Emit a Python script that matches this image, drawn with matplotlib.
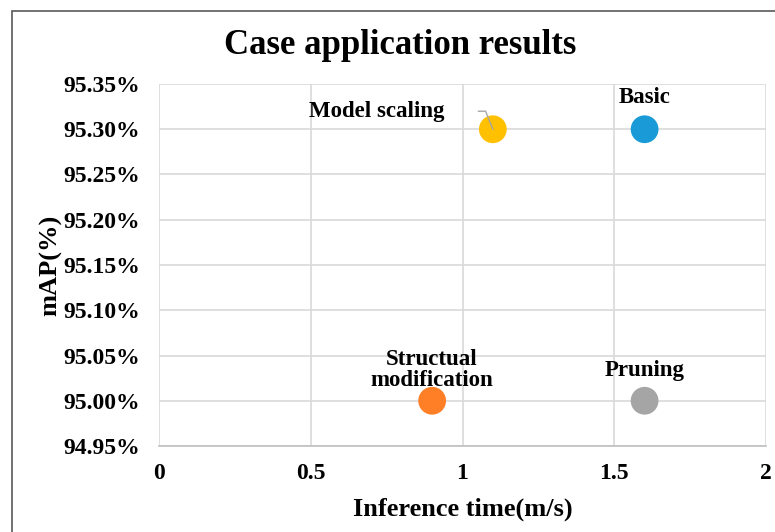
import numpy as np
import matplotlib.pyplot as plt
from matplotlib.patches import Rectangle
from matplotlib.ticker import FuncFormatter

plt.rc('font', family='Liberation Serif', weight='bold')

# data
kNames = ['Basic', 'Model scaling', 'Structual\nmodification', 'Pruning']
kTime = [1.6, 1.1, 0.9, 1.6]
kMap = [95.30, 95.30, 95.00, 95.00]
kColors = ['#1A9BD7', '#FFC000', '#FF7F27', '#A5A5A5']

kXTicks = [0, 0.5, 1, 1.5, 2]
kYTicks = [94.95, 95.00, 95.05, 95.10, 95.15, 95.20, 95.25, 95.30, 95.35]

kGrid = '#D9D9D9'
kLabelSize = 16.5

fig = plt.figure(figsize=(7.75, 5.32), dpi=100)
ax = fig.add_axes([159/775, 1-446/532, (766-159)/775, (446-84)/532])

ax.scatter(kTime, kMap, s=400, c=kColors, zorder=3, linewidths=0)

ax.set_xlim(0, 2)
ax.set_ylim(94.95, 95.35)
ax.set_xticks(kXTicks)
ax.set_yticks(kYTicks)
ax.xaxis.set_major_formatter(FuncFormatter(lambda v, p: '%g' % v))
ax.yaxis.set_major_formatter(FuncFormatter(lambda v, p: '%.2f%%' % v))
ax.tick_params(length=0, labelsize=17)
ax.tick_params(axis='y', pad=13.5)
ax.tick_params(axis='x', pad=12)
ax.grid(True, color=kGrid, lw=1.2, zorder=0)
for s in ['top', 'right', 'left']:
  ax.spines[s].set_visible(False)
ax.spines['bottom'].set_color('#BFBFBF')
ax.spines['bottom'].set_linewidth(1.2)

ax.set_xlabel('Inference time(m/s)', fontsize=19, fontweight='bold', labelpad=10)
ax.set_ylabel('mAP(%)', fontsize=19, fontweight='bold', labelpad=1)

# point labels
ax.annotate(kNames[0], (kTime[0], kMap[0]), xytext=(0, 23), textcoords='offset points',
            ha='center', va='center', fontsize=kLabelSize)
ax.annotate(kNames[1], (kTime[1], kMap[1]), xytext=(-35, 12.5), textcoords='offset points',
            ha='right', va='center', fontsize=kLabelSize)
ax.annotate('', (kTime[1], kMap[1]), xytext=(-10.5, 13), textcoords='offset points',
            arrowprops=dict(arrowstyle='-', color='#A5A5A5', lw=1,
                            connectionstyle='angle,angleA=0,angleB=112,rad=0',
                            shrinkA=0, shrinkB=0))
ax.annotate(kNames[2], (kTime[2], kMap[2]), xytext=(0, 22), textcoords='offset points',
            ha='center', va='center', fontsize=kLabelSize, linespacing=1.0)
ax.annotate(kNames[3], (kTime[3], kMap[3]), xytext=(0, 22), textcoords='offset points',
            ha='center', va='center', fontsize=kLabelSize)

fig.text(400/775, 1-45/532, 'Case application results', ha='center', va='center', fontsize=25)

fig.patches.append(Rectangle((12/775, -0.1), 1.2, 1-11/532+0.1, transform=fig.transFigure,
                             fill=False, edgecolor='#595959', lw=1.2))

fig.savefig('out.png', dpi=100)
